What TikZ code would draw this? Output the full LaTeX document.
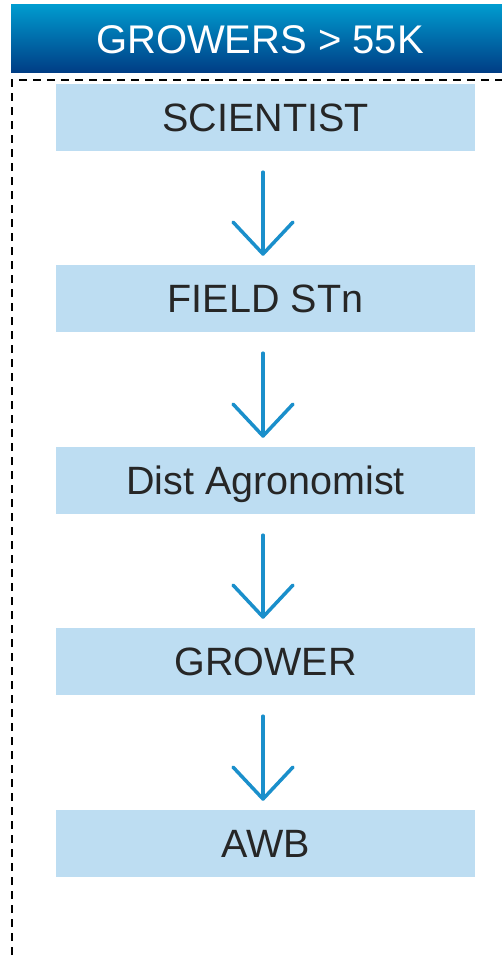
\documentclass[tikz,border=0pt]{standalone}
\usepackage{fontspec}
\setmainfont{Liberation Sans}
\usetikzlibrary{arrows.meta}
\definecolor{boxfill}{HTML}{BDDDF2}
\definecolor{txt}{HTML}{262626}
\definecolor{arrowc}{HTML}{1A8FCB}
\definecolor{headtop}{HTML}{009BCF}
\definecolor{headbot}{HTML}{003C84}
\tikzset{
  stepbox/.style={fill=boxfill, draw=none, minimum width=419pt, minimum height=67pt,
    inner sep=0pt, text height=28.5pt, text depth=0pt, text=txt,
    font=\fontsize{39.5}{42}\selectfont},
  flowarrow/.style={draw=arrowc, line width=3.5pt, line cap=round,
    -{Straight Barb[length=32pt,width=60pt,line width=3.5pt,round]},
    shorten <=21pt, shorten >=9pt},
  frame/.style={draw=black, line width=2.3pt, dash pattern=on 8pt off 6pt}
}
\begin{document}
\begin{tikzpicture}[x=1pt,y=1pt]
\useasboundingbox (0,0) rectangle (502,-960);
\shade[top color=headtop, bottom color=headbot] (11,-5) rectangle (502,-73);
\node[text=white, inner sep=0pt, text height=28.5pt, text depth=0pt,
  font=\fontsize{40}{42}\selectfont] (head) at (260,-39) {GROWERS > 55K};
\draw[frame] (12,-955) -- (12,-80) -- (502,-80);
\node[stepbox] (s1) at (265.5,-117.5) {SCIENTIST};
\node[stepbox] (s2) at (265.5,-298.5) {FIELD STn};
\node[stepbox] (s3) at (265.5,-480.5) {Dist Agronomist};
\node[stepbox] (s4) at (265.5,-661.5) {GROWER};
\node[stepbox] (s5) at (265.5,-843.5) {AWB};
\draw[flowarrow] ([xshift=-2.5pt]s1.south) -- ([xshift=-2.5pt]s2.north);
\draw[flowarrow] ([xshift=-2.5pt]s2.south) -- ([xshift=-2.5pt]s3.north);
\draw[flowarrow] ([xshift=-2.5pt]s3.south) -- ([xshift=-2.5pt]s4.north);
\draw[flowarrow] ([xshift=-2.5pt]s4.south) -- ([xshift=-2.5pt]s5.north);
\end{tikzpicture}
\end{document}
